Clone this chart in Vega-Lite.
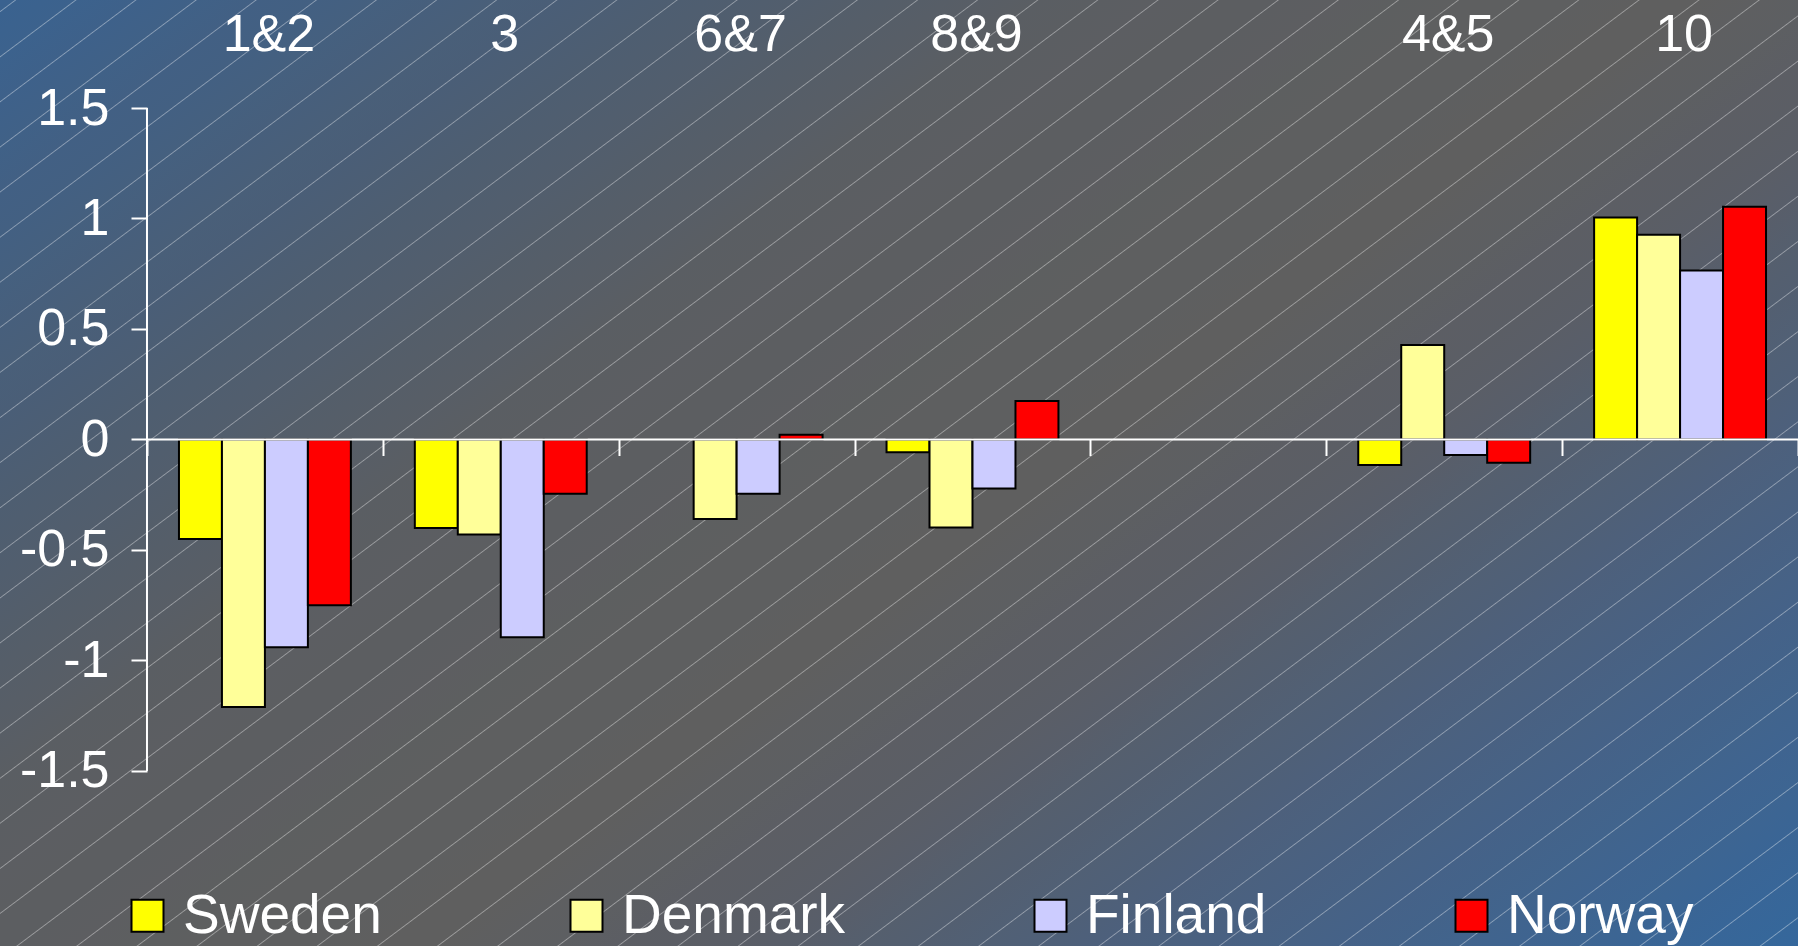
{
  "$schema": "https://vega.github.io/schema/vega-lite/v6.json",
  "width": 1798,
  "height": 946,
  "autosize": {"type": "none"},
  "padding": 0,
  "background": "#5a5f66",
  "config": {
    "font": "Liberation Sans",
    "view": {
      "stroke": null,
      "fill": {
        "gradient": "linear", "x1": 0, "y1": 0, "x2": 1.1404, "y2": 0.8,
        "stops": [
          {"offset": 0, "color": "rgb(58,98,144)"},
          {"offset": 0.0046, "color": "rgb(58,98,143)"}, {"offset": 0.0051, "color": "rgb(133,158,186)"}, {"offset": 0.0056, "color": "rgb(58,98,143)"},
          {"offset": 0.0243, "color": "rgb(60,98,141)"}, {"offset": 0.0248, "color": "rgb(134,158,184)"}, {"offset": 0.0253, "color": "rgb(60,98,141)"},
          {"offset": 0.0439, "color": "rgb(62,97,138)"}, {"offset": 0.0444, "color": "rgb(135,157,183)"}, {"offset": 0.0449, "color": "rgb(62,97,138)"},
          {"offset": 0.0636, "color": "rgb(64,97,135)"}, {"offset": 0.0641, "color": "rgb(137,157,181)"}, {"offset": 0.0646, "color": "rgb(64,97,135)"},
          {"offset": 0.0832, "color": "rgb(66,96,132)"}, {"offset": 0.0837, "color": "rgb(138,156,179)"}, {"offset": 0.0842, "color": "rgb(66,96,132)"},
          {"offset": 0.1029, "color": "rgb(67,96,130)"}, {"offset": 0.1034, "color": "rgb(138,156,178)"}, {"offset": 0.1039, "color": "rgb(67,96,130)"},
          {"offset": 0.1225, "color": "rgb(69,96,127)"}, {"offset": 0.1230, "color": "rgb(140,156,176)"}, {"offset": 0.1235, "color": "rgb(69,96,127)"},
          {"offset": 0.1422, "color": "rgb(71,95,124)"}, {"offset": 0.1427, "color": "rgb(141,156,174)"}, {"offset": 0.1432, "color": "rgb(71,95,124)"},
          {"offset": 0.1618, "color": "rgb(73,95,121)"}, {"offset": 0.1623, "color": "rgb(142,156,172)"}, {"offset": 0.1628, "color": "rgb(73,95,121)"},
          {"offset": 0.1815, "color": "rgb(74,94,119)"}, {"offset": 0.1820, "color": "rgb(143,155,171)"}, {"offset": 0.1825, "color": "rgb(74,94,119)"},
          {"offset": 0.2011, "color": "rgb(76,94,116)"}, {"offset": 0.2016, "color": "rgb(144,155,169)"}, {"offset": 0.2021, "color": "rgb(76,94,116)"},
          {"offset": 0.2208, "color": "rgb(78,94,113)"}, {"offset": 0.2213, "color": "rgb(145,155,167)"}, {"offset": 0.2218, "color": "rgb(78,94,113)"},
          {"offset": 0.2404, "color": "rgb(80,94,111)"}, {"offset": 0.2409, "color": "rgb(147,155,166)"}, {"offset": 0.2414, "color": "rgb(80,94,111)"},
          {"offset": 0.2601, "color": "rgb(82,94,109)"}, {"offset": 0.2606, "color": "rgb(148,155,165)"}, {"offset": 0.2611, "color": "rgb(82,94,109)"},
          {"offset": 0.2797, "color": "rgb(84,94,106)"}, {"offset": 0.2802, "color": "rgb(149,155,163)"}, {"offset": 0.2807, "color": "rgb(84,94,106)"},
          {"offset": 0.2994, "color": "rgb(86,94,104)"}, {"offset": 0.2999, "color": "rgb(150,155,161)"}, {"offset": 0.3004, "color": "rgb(86,94,104)"},
          {"offset": 0.3190, "color": "rgb(88,94,102)"}, {"offset": 0.3195, "color": "rgb(151,155,160)"}, {"offset": 0.3200, "color": "rgb(88,94,102)"},
          {"offset": 0.3387, "color": "rgb(90,94,99)"}, {"offset": 0.3392, "color": "rgb(153,155,158)"}, {"offset": 0.3397, "color": "rgb(90,94,99)"},
          {"offset": 0.3583, "color": "rgb(91,94,98)"}, {"offset": 0.3588, "color": "rgb(153,155,158)"}, {"offset": 0.3593, "color": "rgb(91,94,98)"},
          {"offset": 0.3780, "color": "rgb(92,94,98)"}, {"offset": 0.3785, "color": "rgb(154,155,158)"}, {"offset": 0.3790, "color": "rgb(92,94,98)"},
          {"offset": 0.3976, "color": "rgb(92,94,97)"}, {"offset": 0.3981, "color": "rgb(154,155,157)"}, {"offset": 0.3986, "color": "rgb(92,94,97)"},
          {"offset": 0.4173, "color": "rgb(92,94,97)"}, {"offset": 0.4178, "color": "rgb(154,155,157)"}, {"offset": 0.4183, "color": "rgb(92,94,97)"},
          {"offset": 0.4369, "color": "rgb(93,94,97)"}, {"offset": 0.4374, "color": "rgb(155,155,157)"}, {"offset": 0.4379, "color": "rgb(93,94,97)"},
          {"offset": 0.4566, "color": "rgb(93,95,96)"}, {"offset": 0.4571, "color": "rgb(155,156,156)"}, {"offset": 0.4576, "color": "rgb(93,95,96)"},
          {"offset": 0.4762, "color": "rgb(94,95,96)"}, {"offset": 0.4767, "color": "rgb(155,156,156)"}, {"offset": 0.4772, "color": "rgb(94,95,96)"},
          {"offset": 0.4959, "color": "rgb(94,95,96)"}, {"offset": 0.4964, "color": "rgb(155,156,156)"}, {"offset": 0.4969, "color": "rgb(94,95,96)"},
          {"offset": 0.5155, "color": "rgb(94,95,96)"}, {"offset": 0.5160, "color": "rgb(155,156,156)"}, {"offset": 0.5165, "color": "rgb(94,95,96)"},
          {"offset": 0.5352, "color": "rgb(95,95,95)"}, {"offset": 0.5357, "color": "rgb(156,156,156)"}, {"offset": 0.5362, "color": "rgb(95,95,95)"},
          {"offset": 0.5548, "color": "rgb(95,95,95)"}, {"offset": 0.5553, "color": "rgb(156,156,156)"}, {"offset": 0.5558, "color": "rgb(95,95,95)"},
          {"offset": 0.5745, "color": "rgb(94,95,97)"}, {"offset": 0.5750, "color": "rgb(155,156,157)"}, {"offset": 0.5755, "color": "rgb(94,95,97)"},
          {"offset": 0.5941, "color": "rgb(93,95,98)"}, {"offset": 0.5946, "color": "rgb(155,156,158)"}, {"offset": 0.5951, "color": "rgb(93,95,98)"},
          {"offset": 0.6138, "color": "rgb(92,94,100)"}, {"offset": 0.6143, "color": "rgb(154,155,159)"}, {"offset": 0.6148, "color": "rgb(92,94,100)"},
          {"offset": 0.6334, "color": "rgb(91,94,101)"}, {"offset": 0.6339, "color": "rgb(153,155,160)"}, {"offset": 0.6344, "color": "rgb(91,94,101)"},
          {"offset": 0.6531, "color": "rgb(90,94,103)"}, {"offset": 0.6536, "color": "rgb(153,155,161)"}, {"offset": 0.6541, "color": "rgb(90,94,103)"},
          {"offset": 0.6727, "color": "rgb(88,94,106)"}, {"offset": 0.6732, "color": "rgb(151,155,163)"}, {"offset": 0.6737, "color": "rgb(88,94,106)"},
          {"offset": 0.6924, "color": "rgb(85,95,110)"}, {"offset": 0.6929, "color": "rgb(150,156,165)"}, {"offset": 0.6934, "color": "rgb(85,95,110)"},
          {"offset": 0.7120, "color": "rgb(83,95,113)"}, {"offset": 0.7125, "color": "rgb(148,156,167)"}, {"offset": 0.7130, "color": "rgb(83,95,113)"},
          {"offset": 0.7317, "color": "rgb(81,96,117)"}, {"offset": 0.7322, "color": "rgb(147,156,169)"}, {"offset": 0.7327, "color": "rgb(81,96,117)"},
          {"offset": 0.7513, "color": "rgb(79,96,120)"}, {"offset": 0.7518, "color": "rgb(146,156,171)"}, {"offset": 0.7523, "color": "rgb(79,96,120)"},
          {"offset": 0.7710, "color": "rgb(77,96,124)"}, {"offset": 0.7715, "color": "rgb(145,156,174)"}, {"offset": 0.7720, "color": "rgb(77,96,124)"},
          {"offset": 0.7906, "color": "rgb(75,97,127)"}, {"offset": 0.7911, "color": "rgb(143,157,176)"}, {"offset": 0.7916, "color": "rgb(75,97,127)"},
          {"offset": 0.8103, "color": "rgb(73,97,130)"}, {"offset": 0.8108, "color": "rgb(142,157,178)"}, {"offset": 0.8113, "color": "rgb(73,97,130)"},
          {"offset": 0.8299, "color": "rgb(71,98,133)"}, {"offset": 0.8304, "color": "rgb(141,158,179)"}, {"offset": 0.8309, "color": "rgb(71,98,133)"},
          {"offset": 0.8496, "color": "rgb(69,98,136)"}, {"offset": 0.8501, "color": "rgb(140,158,181)"}, {"offset": 0.8506, "color": "rgb(69,98,136)"},
          {"offset": 0.8692, "color": "rgb(67,99,138)"}, {"offset": 0.8697, "color": "rgb(138,158,183)"}, {"offset": 0.8702, "color": "rgb(67,99,138)"},
          {"offset": 0.8889, "color": "rgb(65,100,141)"}, {"offset": 0.8894, "color": "rgb(137,159,184)"}, {"offset": 0.8899, "color": "rgb(65,100,141)"},
          {"offset": 0.9085, "color": "rgb(63,100,144)"}, {"offset": 0.9090, "color": "rgb(136,159,186)"}, {"offset": 0.9095, "color": "rgb(63,100,144)"},
          {"offset": 0.9282, "color": "rgb(61,101,146)"}, {"offset": 0.9287, "color": "rgb(135,160,187)"}, {"offset": 0.9292, "color": "rgb(61,101,146)"},
          {"offset": 0.9478, "color": "rgb(58,101,149)"}, {"offset": 0.9483, "color": "rgb(133,160,189)"}, {"offset": 0.9488, "color": "rgb(58,101,149)"},
          {"offset": 0.9675, "color": "rgb(56,102,152)"}, {"offset": 0.9680, "color": "rgb(132,160,191)"}, {"offset": 0.9685, "color": "rgb(56,102,152)"},
          {"offset": 0.9871, "color": "rgb(54,103,154)"}, {"offset": 0.9876, "color": "rgb(130,161,192)"}, {"offset": 0.9881, "color": "rgb(54,103,154)"},
          {"offset": 1, "color": "rgb(53,103,156)"}
        ]
      }
    }
  },
  "data": {
    "values": [
      {"group": "1&2", "country": "Sweden", "value": -0.45},
      {"group": "1&2", "country": "Denmark", "value": -1.21},
      {"group": "1&2", "country": "Finland", "value": -0.94},
      {"group": "1&2", "country": "Norway", "value": -0.75},
      {"group": "3", "country": "Sweden", "value": -0.40},
      {"group": "3", "country": "Denmark", "value": -0.43},
      {"group": "3", "country": "Finland", "value": -0.895},
      {"group": "3", "country": "Norway", "value": -0.245},
      {"group": "6&7", "country": "Denmark", "value": -0.36},
      {"group": "6&7", "country": "Finland", "value": -0.245},
      {"group": "6&7", "country": "Norway", "value": 0.022},
      {"group": "8&9", "country": "Sweden", "value": -0.058},
      {"group": "8&9", "country": "Denmark", "value": -0.398},
      {"group": "8&9", "country": "Finland", "value": -0.222},
      {"group": "8&9", "country": "Norway", "value": 0.174},
      {"group": "4&5", "country": "Sweden", "value": -0.115},
      {"group": "4&5", "country": "Denmark", "value": 0.428},
      {"group": "4&5", "country": "Finland", "value": -0.07},
      {"group": "4&5", "country": "Norway", "value": -0.105},
      {"group": "10", "country": "Sweden", "value": 1.005},
      {"group": "10", "country": "Denmark", "value": 0.927},
      {"group": "10", "country": "Finland", "value": 0.765},
      {"group": "10", "country": "Norway", "value": 1.053}
    ]
  },
  "layer": [
    {
      "mark": {"type": "bar", "stroke": "black", "strokeWidth": 2, "opacity": 1},
      "encoding": {
        "x": {
          "field": "group", "type": "nominal", "sort": null,
          "scale": {"domain": ["1&2", "3", "6&7", "8&9", " ", "4&5", "10"], "paddingInner": 0, "paddingOuter": 0.3116, "align": 1},
          "axis": {"orient": "top", "offset": -50, "title": null, "domain": false, "ticks": false, "tickSize": 0, "labelPadding": 0, "labelBaseline": "alphabetic", "labelAngle": 0, "labelFontSize": 52, "labelColor": "white", "labelOffset": 4, "grid": false}
        },
        "xOffset": {"field": "country", "type": "nominal", "scale": {"domain": ["Sweden", "Denmark", "Finland", "Norway"], "paddingInner": 0, "paddingOuter": 0.744}},
        "y": {
          "field": "value", "type": "quantitative",
          "scale": {"domain": [-2.2919, 1.9887], "nice": false, "zero": false},
          "axis": {"orient": "left", "offset": -147, "title": null, "domain": false, "grid": false, "values": [-1.5, -1, -0.5, 0, 0.5, 1, 1.5], "labelExpr": "'' + datum.value", "tickColor": "white", "tickWidth": 2, "tickSize": 16, "labelColor": "white", "labelFontSize": 52, "labelPadding": 22, "labelFlush": false, "labelOverlap": false}
        },
        "color": {
          "field": "country", "type": "nominal",
          "scale": {"domain": ["Sweden", "Denmark", "Finland", "Norway"], "range": ["#ffff00", "#ffff99", "#ccccff", "#ff0000"]},
          "legend": {"title": null, "orient": "none", "legendX": 120, "legendY": 888, "direction": "horizontal", "columns": 4, "columnPadding": 177, "padding": 0, "symbolType": "square", "symbolSize": 1024, "symbolStrokeColor": "black", "symbolStrokeWidth": 2, "symbolOpacity": 1, "labelFontSize": 55, "labelColor": "white", "labelOffset": 8, "labelLimit": 0, "labelBaseline": "middle"}
        }
      }
    },
    {
      "data": {"values": [{"first": "1&2", "last": "10"}]},
      "mark": {"type": "rule", "color": "white", "strokeWidth": 2},
      "encoding": {
        "x": {"field": "first", "type": "nominal", "bandPosition": 0,
          "axis": {"orient": "bottom", "offset": -506.5, "title": null, "domain": false, "labels": false, "grid": false, "tickBand": "extent", "tickColor": "white", "tickWidth": 2, "tickSize": 16}},
        "x2": {"field": "last", "bandPosition": 1},
        "y": {"datum": 0, "type": "quantitative"}
      }
    },
    {
      "data": {"values": [{"first": "1&2"}]},
      "mark": {"type": "rule", "color": "white", "strokeWidth": 2},
      "encoding": {
        "x": {"field": "first", "type": "nominal", "bandPosition": 0, "axis": null},
        "y": {"datum": -1.5, "type": "quantitative"},
        "y2": {"datum": 1.5}
      }
    }
  ]
}
